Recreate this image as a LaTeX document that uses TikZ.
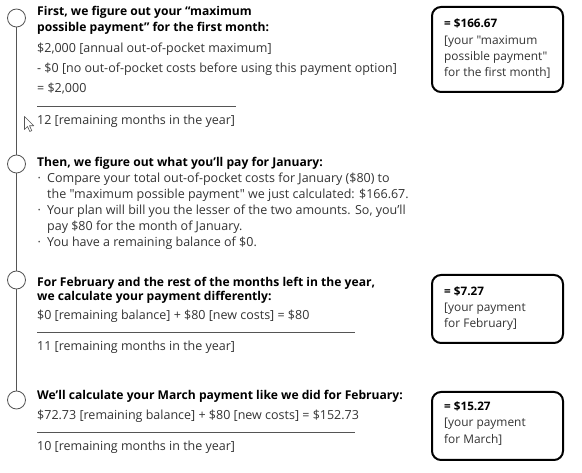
\documentclass[tikz,border=0pt]{standalone}
\usepackage{fontspec}
\setmainfont{Open Sans}[Ligatures=TeXOff]
\definecolor{txt}{HTML}{333333}
\definecolor{ln}{HTML}{555555}
\newcommand{\bul}{\makebox[10pt][l]{\hspace{0.5pt}·}}
\begin{document}
\begin{tikzpicture}[x=1pt,y=-1pt,
  t/.style={anchor=west,inner sep=0pt,text=txt,font=\fontsize{12.5}{14}\selectfont,text height=8.5pt,text depth=2.5pt},
  h/.style={t,text=black,font=\fontsize{12.1}{14}\selectfont\bfseries},
  bt/.style={t,font=\fontsize{11.9}{14}\selectfont},
  bh/.style={h,font=\fontsize{11.7}{14}\selectfont\bfseries},
  dot/.style={circle,draw=ln,fill=white,line width=0.8pt,minimum size=18pt,inner sep=0pt},
  res/.style={draw=black,line width=2pt,rounded corners=9pt},
  rule/.style={draw=ln,line width=0.8pt}]
\useasboundingbox (0,0) rectangle (582,473);
% timeline
\node[dot] (c1) at (16.5,18) {};
\node[dot] (c2) at (16.5,164) {};
\node[dot] (c3) at (16.5,280) {};
\node[dot] (c4) at (16.5,400) {};
\draw[ln,line width=0.8pt] (c1) -- (c2) (c2) -- (c3) (c3) -- (c4);
% block 1
\node[h] (a1) at (37,13) {First, we figure out your “maximum};
\node[h] (a2) at (37,29) {possible payment” for the first month:};
\node[t] (a3) at (37,50) {\$2,000 [annual out-of-pocket maximum]};
\node[t] (a4) at (37,70) {- \$0 [no out-of-pocket costs before using this payment option]};
\node[t] (a5) at (37,90) {= \$2,000};
\coordinate (r1a) at (37,106); \coordinate (r1b) at (236,106);
\draw[rule] (r1a) -- (r1b);
\node[t] (a6) at (37,122) {12 [remaining months in the year]};
% cursor
\draw[ln,fill=white,line width=0.6pt,line join=round] (24.5,116.5) -- ++(0,13) -- ++(3,-3) -- ++(2.3,5) -- ++(2,-0.9) -- ++(-2.3,-4.8) -- ++(4.3,0) -- cycle;
% box 1
\draw[res] (432,7) rectangle (563,92);
\node[bh] (b1) at (444,25) {= \$166.67};
\node[bt] (b2) at (444,42) {[your "maximum};
\node[bt] (b3) at (444,58) {possible payment"};
\node[bt] (b4) at (444,74) {for the first month]};
% block 2
\node[h] (d1) at (37,164) {Then, we figure out what you’ll pay for January:};
\node[t] (d2) at (37,180) {\bul Compare your total out-of-pocket costs for January (\$80) to};
\node[t] (d3) at (47,196) {the "maximum possible payment" we just calculated: \$166.67.};
\node[t] (d4) at (37,212) {\bul Your plan will bill you the lesser of the two amounts. So, you’ll};
\node[t] (d5) at (47,228) {pay \$80 for the month of January.};
\node[t] (d6) at (37,244) {\bul You have a remaining balance of \$0.};
% block 3
\node[h] (e1) at (37,284) {For February and the rest of the months left in the year,};
\node[h] (e2) at (37,298) {we calculate your payment differently:};
\node[t] (e3) at (37,317) {\$0 [remaining balance] + \$80 [new costs] = \$80};
\coordinate (r2a) at (37,332); \coordinate (r2b) at (355,332);
\draw[rule] (r2a) -- (r2b);
\node[t] (e4) at (37,348) {11 [remaining months in the year]};
% box 2
\draw[res] (432,275) rectangle (563,343);
\node[bh] (f1) at (444,293) {= \$7.27};
\node[bt] (f2) at (444,309) {[your payment};
\node[bt] (f3) at (444,325) {for February]};
% block 4
\node[h] (g1) at (37,397) {We’ll calculate your March payment like we did for February:};
\node[t] (g2) at (37,417) {\$72.73 [remaining balance] + \$80 [new costs] = \$152.73};
\coordinate (r3a) at (37,432); \coordinate (r3b) at (355,432);
\draw[rule] (r3a) -- (r3b);
\node[t] (g3) at (37,448) {10 [remaining months in the year]};
% box 3
\draw[res] (432,392) rectangle (563,460);
\node[bh] (k1) at (444,408) {= \$15.27};
\node[bt] (k2) at (444,424) {[your payment};
\node[bt] (k3) at (444,441) {for March]};
\end{tikzpicture}
\end{document}
